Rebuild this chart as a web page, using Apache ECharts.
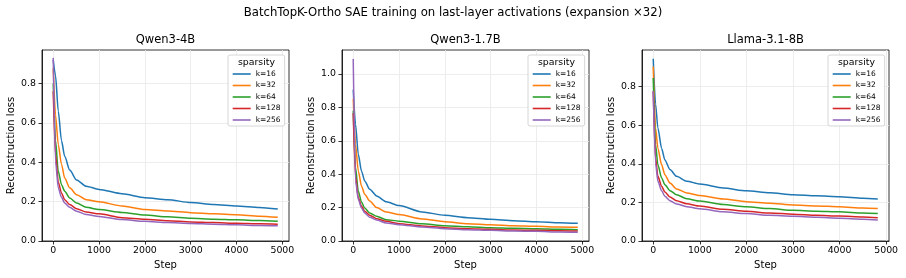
<!DOCTYPE html>
<html>
<head>
<meta charset="utf-8">
<script src="https://cdn.jsdelivr.net/npm/echarts@6/dist/echarts.min.js"></script>
<style>
  html, body { margin: 0; padding: 0; background: #fff; }
  #chart { width: 906px; height: 278px; }
</style>
</head>
<body>
<div id="chart"></div>
<script>
var FONT = 'DejaVu Sans';

var seriesNames = ['k=16', 'k=32', 'k=64', 'k=128', 'k=256'];
var colors = ['#1f77b4', '#ff7f0e', '#2ca02c', '#d62728', '#9467bd'];
var panelTitles = ['Qwen3-4B', 'Qwen3-1.7B', 'Llama-3.1-8B'];

// training steps where the curves were read
var stepsQwen = [0, 50, 110, 180, 250, 360, 510, 720, 1000, 1500, 2000, 2500, 3000, 3500, 4000, 4500, 4900];
var stepsLlama = [0, 50, 100, 180, 250, 360, 500, 720, 1000, 1500, 2000, 2500, 3000, 3500, 4000, 4500, 4820];

// Qwen3-4B
var q4_k16  = [0.92, 0.84, 0.66, 0.51, 0.43, 0.36, 0.31, 0.278, 0.262, 0.24, 0.22, 0.21, 0.195, 0.185, 0.178, 0.17, 0.162];
var q4_k32  = [0.876, 0.64, 0.49, 0.39, 0.32, 0.27, 0.235, 0.21, 0.199, 0.178, 0.16, 0.152, 0.144, 0.138, 0.133, 0.126, 0.12];
var q4_k64  = [0.80, 0.51, 0.354, 0.286, 0.253, 0.219, 0.193, 0.171, 0.16, 0.145, 0.132, 0.123, 0.116, 0.111, 0.108, 0.104, 0.10];
var q4_k128 = [0.76, 0.44, 0.30, 0.244, 0.21, 0.185, 0.164, 0.147, 0.138, 0.118, 0.11, 0.103, 0.097, 0.094, 0.09, 0.087, 0.085];
var q4_k256 = [0.93, 0.405, 0.27, 0.222, 0.193, 0.171, 0.151, 0.134, 0.125, 0.109, 0.10, 0.094, 0.089, 0.085, 0.082, 0.079, 0.077];

// Qwen3-1.7B
var q17_k16  = [0.906, 0.70, 0.52, 0.42, 0.36, 0.31, 0.27, 0.235, 0.212, 0.174, 0.154, 0.14, 0.13, 0.122, 0.116, 0.11, 0.106];
var q17_k32  = [0.852, 0.58, 0.42, 0.33, 0.28, 0.24, 0.20, 0.174, 0.158, 0.132, 0.116, 0.104, 0.098, 0.092, 0.088, 0.084, 0.082];
var q17_k64  = [0.78, 0.44, 0.30, 0.234, 0.198, 0.168, 0.148, 0.128, 0.119, 0.104, 0.092, 0.086, 0.08, 0.076, 0.074, 0.07, 0.068];
var q17_k128 = [0.766, 0.39, 0.26, 0.21, 0.178, 0.154, 0.134, 0.118, 0.104, 0.09, 0.08, 0.074, 0.07, 0.066, 0.064, 0.062, 0.06];
var q17_k256 = [1.09, 0.36, 0.25, 0.198, 0.168, 0.142, 0.126, 0.108, 0.098, 0.084, 0.074, 0.068, 0.064, 0.06, 0.058, 0.054, 0.052];

// Llama-3.1-8B
var ll_k16  = [0.945, 0.71, 0.586, 0.48, 0.42, 0.37, 0.335, 0.31, 0.295, 0.275, 0.26, 0.25, 0.24, 0.234, 0.229, 0.222, 0.218];
var ll_k32  = [0.905, 0.586, 0.48, 0.395, 0.344, 0.30, 0.27, 0.249, 0.236, 0.218, 0.204, 0.196, 0.187, 0.182, 0.177, 0.171, 0.168];
var ll_k64  = [0.845, 0.50, 0.395, 0.327, 0.292, 0.261, 0.24, 0.219, 0.207, 0.189, 0.177, 0.168, 0.159, 0.154, 0.151, 0.145, 0.142];
var ll_k128 = [0.776, 0.43, 0.335, 0.284, 0.254, 0.228, 0.209, 0.193, 0.181, 0.164, 0.154, 0.145, 0.139, 0.133, 0.13, 0.125, 0.121];
var ll_k256 = [0.776, 0.404, 0.31, 0.261, 0.232, 0.209, 0.192, 0.178, 0.167, 0.151, 0.142, 0.133, 0.128, 0.123, 0.118, 0.113, 0.109];

var xTicks = [0, 1000, 2000, 3000, 4000, 5000];
var yTicksA = [0, 0.2, 0.4, 0.6, 0.8];
var yTicksB = [0, 0.2, 0.4, 0.6, 0.8, 1.0];

var panels = [
  { steps: stepsQwen, data: [q4_k16, q4_k32, q4_k64, q4_k128, q4_k256], xMin: -245, xMax: 5145, yMax: 0.97, yTicks: yTicksA },
  { steps: stepsQwen, data: [q17_k16, q17_k32, q17_k64, q17_k128, q17_k256], xMin: -245, xMax: 5145, yMax: 1.144, yTicks: yTicksB },
  { steps: stepsLlama, data: [ll_k16, ll_k32, ll_k64, ll_k128, ll_k256], xMin: -241, xMax: 5061, yMax: 0.99, yTicks: yTicksA }
];

var chart = echarts.init(document.getElementById('chart'));

var grids = [], xAxes = [], yAxes = [], series = [], legends = [], graphics = [];

graphics.push({
  type: 'text', x: 453, y: 13,
  style: { text: 'BatchTopK-Ortho SAE training on last-layer activations (expansion \u00d732)',
    font: '11.7px "' + FONT + '"', fill: '#000', align: 'center', verticalAlign: 'middle' }
});

panels.forEach(function (p, i) {
  var left = 42 + 300 * i;
  grids.push({ left: left, top: 50, width: 247, height: 191, show: true,
    borderColor: '#000', borderWidth: 0.8, backgroundColor: '#fff' });

  xAxes.push({
    type: 'value', gridIndex: i, min: p.xMin, max: p.xMax,
    name: 'Step', nameLocation: 'middle', nameGap: 19,
    nameTextStyle: { fontFamily: FONT, fontSize: 10, color: '#000' },
    axisLine: { show: true, onZero: false, lineStyle: { color: '#000', width: 0.8 } },
    axisTick: { show: true, length: 3.5, customValues: xTicks, lineStyle: { color: '#000', width: 0.8 } },
    axisLabel: { customValues: xTicks, fontFamily: FONT, fontSize: 9.4, color: '#000', margin: 5,
      formatter: function (v) { return String(v); } },
    splitLine: { show: true, lineStyle: { color: '#e8e8e8', width: 0.8 } }
  });

  yAxes.push({
    type: 'value', gridIndex: i, min: 0, max: p.yMax,
    name: 'Reconstruction loss', nameLocation: 'middle', nameGap: 26,
    nameTextStyle: { fontFamily: FONT, fontSize: 10, color: '#000' },
    axisLine: { show: true, onZero: false, lineStyle: { color: '#000', width: 0.8 } },
    axisTick: { show: true, length: 3.5, customValues: p.yTicks, lineStyle: { color: '#000', width: 0.8 } },
    axisLabel: { customValues: p.yTicks, fontFamily: FONT, fontSize: 9.4, color: '#000', margin: 6,
      formatter: function (v) { return v.toFixed(1); } },
    splitLine: { show: true, lineStyle: { color: '#e8e8e8', width: 0.8 } }
  });

  p.data.forEach(function (vals, k) {
    series.push({
      name: seriesNames[k], type: 'line', xAxisIndex: i, yAxisIndex: i,
      data: p.steps.map(function (s, j) { return [s, vals[j]]; }),
      showSymbol: false, smooth: 0.25, smoothMonotone: 'x',
      lineStyle: { width: 1.5, color: colors[k] }, itemStyle: { color: colors[k] },
      animation: false
    });
  });

  legends.push({
    data: seriesNames, orient: 'vertical', left: 228 + 300 * i, top: 55,
    padding: [14.5, 4, 1.5, 4.7], itemGap: 2.5, itemWidth: 18, itemHeight: 1.6, icon: 'rect',
    backgroundColor: 'rgba(255,255,255,0.85)', borderColor: '#cccccc', borderWidth: 0.8, borderRadius: 2,
    textStyle: { fontFamily: FONT, fontSize: 7.5, lineHeight: 9, color: '#000' },
    selectedMode: false
  });

  graphics.push({
    type: 'text', x: left + 123.5, y: 40,
    style: { text: panelTitles[i], font: '11.5px "' + FONT + '"', fill: '#000', align: 'center', verticalAlign: 'middle' }
  });
  graphics.push({
    type: 'text', x: 256.5 + 300 * i, y: 62.7, z: 100,
    style: { text: 'sparsity', font: '9.4px "' + FONT + '"', fill: '#000', align: 'center', verticalAlign: 'middle' }
  });
});

chart.setOption({
  animation: false,
  color: colors,
  grid: grids,
  xAxis: xAxes,
  yAxis: yAxes,
  legend: legends,
  series: series,
  graphic: graphics
});

window.addEventListener('resize', function () {
  chart.resize();
});
</script>
</body>
</html>
